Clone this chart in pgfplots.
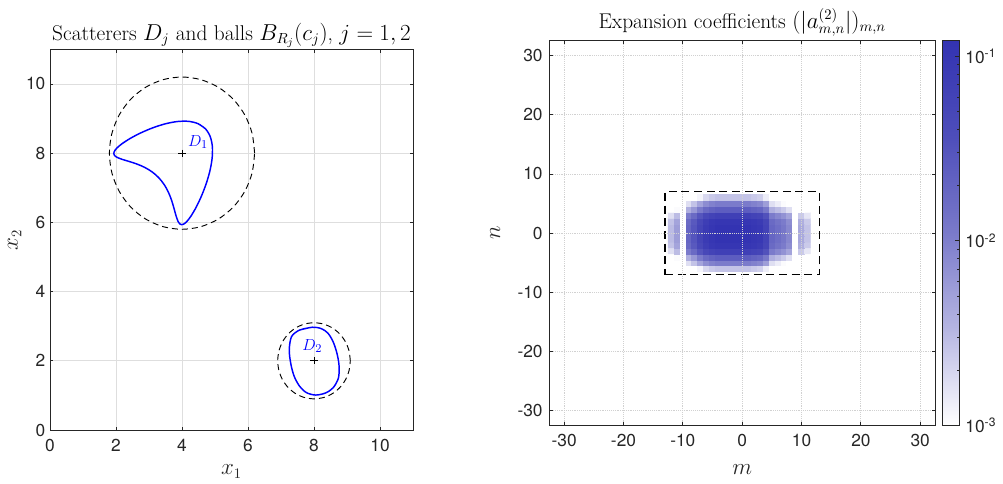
\documentclass[border=0pt]{standalone}
\usepackage{fontspec}
\usepackage{pgfplots}
\pgfplotsset{compat=1.18}
\newfontfamily\hv{TeX Gyre Heros}
\newcommand\tickfont{\hv\fontsize{13}{15}\selectfont}
\newcommand\labfont{\fontsize{16}{19}\selectfont}
\definecolor{axgray}{RGB}{38,38,38}

\pgfplotsset{
  every axis title shift=0pt,
  matlab/.style={
    scale only axis, anchor=south west,
    axis line style={color=axgray, line width=0.6pt},
    tick style={color=axgray, line width=0.6pt},
    major tick length=2.6pt, tick align=inside, tick pos=both,
    ticklabel style={font=\tickfont, color=axgray},
    /pgf/number format/assume math mode=true,
    title style={font=\labfont, anchor=base},
    label style={font=\labfont, color=axgray},
  }
}

\begin{document}
\begin{tikzpicture}
\path[use as bounding box] (0,0) rectangle (752.25pt,362.25pt);

% ---------------- left: scatterers ----------------
\begin{axis}[matlab,
  at={(37.5pt,39.75pt)}, width=272.25pt, height=285.5pt,
  xmin=0, xmax=11, ymin=0, ymax=11,
  xtick={0,2,...,10}, ytick={0,2,...,10},
  grid=major, grid style={color=black!13, line width=0.6pt},
  title={Scatterers $D_j$ and balls $B_{R_j}(c_j)$, $j=1,2$},
  title style={at={(axis description cs:0.5,1.0245)}},
  xlabel={$x_1$}, ylabel={$x_2$},
  xlabel style={at={(axis description cs:0.5,-0.1182)}, anchor=base},
  ylabel style={at={(axis description cs:-0.0882,0.5)}, anchor=base},
  xticklabel style={yshift=-3.5pt},
]
% ball around c_1
\addplot[black, line width=0.7pt, dash pattern=on 4.5pt off 3pt, smooth] coordinates {
(6.2,8) (6.125,8.569) (5.905,9.1) (5.556,9.556) (5.1,9.905) (4.569,10.125)
(4,10.2) (3.431,10.125) (2.9,9.905) (2.444,9.556) (2.095,9.1) (1.875,8.569)
(1.8,8) (1.875,7.431) (2.095,6.9) (2.444,6.444) (2.9,6.095) (3.431,5.875)
(4,5.8) (4.569,5.875) (5.1,6.095) (5.556,6.444) (5.905,6.9) (6.125,7.431) (6.2,8)};
% ball around c_2
\addplot[black, line width=0.7pt, dash pattern=on 4.5pt off 3pt, smooth] coordinates {
(9.1,2) (9.062,2.285) (8.953,2.55) (8.778,2.778) (8.55,2.953) (8.285,3.062)
(8,3.1) (7.715,3.062) (7.45,2.953) (7.222,2.778) (7.047,2.55) (6.938,2.285)
(6.9,2) (6.938,1.715) (7.047,1.45) (7.222,1.222) (7.45,1.047) (7.715,0.938)
(8,0.9) (8.285,0.938) (8.55,1.047) (8.778,1.222) (8.953,1.45) (9.062,1.715) (9.1,2)};
% D_1 (kite)
\addplot[blue, line width=1.1pt, smooth] coordinates {
(4.707,8.707) (4.484,8.853) (4.194,8.920) (3.852,8.913) (3.480,8.844) (3.103,8.728)
(2.746,8.583) (2.433,8.427) (2.187,8.276) (2.093,8.206) (2.020,8.141) (1.969,8.083)
(1.941,8.030) (1.935,7.984) (1.950,7.943) (1.985,7.907) (2.038,7.876) (2.194,7.818)
(2.397,7.760) (2.628,7.688) (2.865,7.591) (3.092,7.460) (3.293,7.293) (3.460,7.092)
(3.591,6.865) (3.688,6.628) (3.760,6.397) (3.818,6.194) (3.876,6.038) (3.907,5.985)
(3.943,5.950) (3.984,5.935) (4.030,5.941) (4.083,5.969) (4.141,6.020) (4.206,6.093)
(4.276,6.187) (4.427,6.433) (4.583,6.746) (4.728,7.103) (4.844,7.480) (4.913,7.852)
(4.920,8.194) (4.853,8.484) (4.707,8.707) (4.484,8.853)};
% D_2
\addplot[blue, line width=1.1pt, smooth] coordinates {
(7.95,2.97) (7.57,2.89) (7.32,2.70) (7.25,2.31) (7.30,1.90) (7.40,1.55)
(7.56,1.27) (7.77,1.08) (8.05,1.01) (8.35,1.07) (8.58,1.22) (8.74,1.50)
(8.76,1.85) (8.70,2.20) (8.58,2.55) (8.42,2.80) (8.22,2.93) (7.95,2.97) (7.57,2.89)};
% centres c_j
\addplot[black, only marks, mark=+, mark size=2.7pt, line width=0.6pt] coordinates {(4,8) (8,2)};
\node[blue, anchor=base west, inner sep=0pt, font=\fontsize{13}{15}\selectfont] at (axis cs:4.18,8.2) {$D_1$};
\node[blue, anchor=base west, inner sep=0pt, font=\fontsize{13}{15}\selectfont] at (axis cs:7.64,2.31) {$D_2$};
\end{axis}

% ---------------- right: coefficients ----------------
\begin{axis}[matlab,
  at={(412pt,43pt)}, width=289.3pt, height=288.75pt,
  xmin=-32.5, xmax=32.5, ymin=-32.5, ymax=32.5,
  xtick={-30,-20,...,30}, ytick={-30,-20,...,30},
  grid=major, grid style={densely dotted, color=black!18, line width=0.6pt},
  axis on top,
  title={Expansion coefficients $(|a^{(2)}_{m,n}|)_{m,n}$},
  title style={at={(axis description cs:0.5,1.0329)}},
  xlabel={$m$}, ylabel={$n$},
  xlabel style={at={(axis description cs:0.5,-0.1281)}, anchor=base},
  ylabel style={at={(axis description cs:-0.1279,0.5)}, anchor=base},
  xticklabel style={yshift=-3pt},
  yticklabel style={xshift=-1.5pt},
  colormap={wb}{rgb255(0cm)=(255,255,255); rgb255(1cm)=(182,182,226); rgb255(2cm)=(122,122,202); rgb255(3cm)=(78,78,186); rgb255(4cm)=(51,51,178)},
  point meta min=-3, point meta max=-0.917,
  colorbar,
  colorbar style={
    at={(parent axis.north east)}, anchor=north west, xshift=-2.74pt,
    width=12.45pt,
    axis line style={color=axgray, line width=0.6pt},
    ytick={-3,-2,-1},
    yticklabels={10\textsuperscript{-3},10\textsuperscript{-2},10\textsuperscript{-1}},
    minor ytick={-2.699,-2.523,-2.398,-2.301,-2.222,-2.155,-2.097,-2.046,
                 -1.699,-1.523,-1.398,-1.301,-1.222,-1.155,-1.097,-1.046},
    ytick pos=right, yticklabel pos=right,
    major tick length=3pt, minor tick length=1.8pt,
    tick style={color=axgray, line width=0.6pt},
    yticklabel style={font=\tickfont, color=axgray, anchor=west, xshift=1pt},
  },
]
% log10 |a_{m,n}|, read off the colour scale
\addplot[matrix plot*, mesh/cols=24, point meta=explicit] table[x=m, y=n, meta=lg, row sep=\\] {
m n lg\\
-12 -6 -4.17\\ -11 -6 -3.92\\ -10 -6 -5.07\\ -9 -6 -3.37\\ -8 -6 -3.17\\ -7 -6 -2.92\\ -6 -6 -2.72\\ -5 -6 -2.62\\ -4 -6 -2.57\\ -3 -6 -2.57\\ -2 -6 -2.57\\ -1 -6 -2.57\\ 0 -6 -2.57\\ 1 -6 -2.57\\ 2 -6 -2.62\\ 3 -6 -2.67\\ 4 -6 -2.87\\ 5 -6 -3.37\\ 6 -6 -3.47\\ 7 -6 -3.57\\ 8 -6 -3.72\\ 9 -6 -5.07\\ 10 -6 -4.02\\ 11 -6 -4.22\\
-12 -5 -3.57\\ -11 -5 -3.32\\ -10 -5 -4.47\\ -9 -5 -2.77\\ -8 -5 -2.57\\ -7 -5 -2.32\\ -6 -5 -2.12\\ -5 -5 -2.02\\ -4 -5 -1.97\\ -3 -5 -1.97\\ -2 -5 -1.97\\ -1 -5 -1.97\\ 0 -5 -1.97\\ 1 -5 -1.97\\ 2 -5 -2.02\\ 3 -5 -2.07\\ 4 -5 -2.27\\ 5 -5 -2.77\\ 6 -5 -2.87\\ 7 -5 -2.97\\ 8 -5 -3.12\\ 9 -5 -4.47\\ 10 -5 -3.42\\ 11 -5 -3.62\\
-12 -4 -3.22\\ -11 -4 -2.97\\ -10 -4 -4.12\\ -9 -4 -2.42\\ -8 -4 -2.22\\ -7 -4 -1.97\\ -6 -4 -1.77\\ -5 -4 -1.67\\ -4 -4 -1.62\\ -3 -4 -1.62\\ -2 -4 -1.62\\ -1 -4 -1.62\\ 0 -4 -1.62\\ 1 -4 -1.62\\ 2 -4 -1.67\\ 3 -4 -1.72\\ 4 -4 -1.92\\ 5 -4 -2.42\\ 6 -4 -2.52\\ 7 -4 -2.62\\ 8 -4 -2.77\\ 9 -4 -4.12\\ 10 -4 -3.07\\ 11 -4 -3.27\\
-12 -3 -2.77\\ -11 -3 -2.52\\ -10 -3 -3.67\\ -9 -3 -1.97\\ -8 -3 -1.77\\ -7 -3 -1.52\\ -6 -3 -1.32\\ -5 -3 -1.22\\ -4 -3 -1.17\\ -3 -3 -1.17\\ -2 -3 -1.17\\ -1 -3 -1.17\\ 0 -3 -1.17\\ 1 -3 -1.17\\ 2 -3 -1.22\\ 3 -3 -1.27\\ 4 -3 -1.47\\ 5 -3 -1.97\\ 6 -3 -2.07\\ 7 -3 -2.17\\ 8 -3 -2.32\\ 9 -3 -3.67\\ 10 -3 -2.62\\ 11 -3 -2.82\\
-12 -2 -2.57\\ -11 -2 -2.32\\ -10 -2 -3.47\\ -9 -2 -1.77\\ -8 -2 -1.57\\ -7 -2 -1.32\\ -6 -2 -1.12\\ -5 -2 -1.02\\ -4 -2 -0.97\\ -3 -2 -0.97\\ -2 -2 -0.97\\ -1 -2 -0.97\\ 0 -2 -0.97\\ 1 -2 -0.97\\ 2 -2 -1.02\\ 3 -2 -1.07\\ 4 -2 -1.27\\ 5 -2 -1.77\\ 6 -2 -1.87\\ 7 -2 -1.97\\ 8 -2 -2.12\\ 9 -2 -3.47\\ 10 -2 -2.42\\ 11 -2 -2.62\\
-12 -1 -2.52\\ -11 -1 -2.27\\ -10 -1 -3.42\\ -9 -1 -1.72\\ -8 -1 -1.52\\ -7 -1 -1.27\\ -6 -1 -1.07\\ -5 -1 -0.97\\ -4 -1 -0.92\\ -3 -1 -0.92\\ -2 -1 -0.92\\ -1 -1 -0.92\\ 0 -1 -0.92\\ 1 -1 -0.92\\ 2 -1 -0.97\\ 3 -1 -1.02\\ 4 -1 -1.22\\ 5 -1 -1.72\\ 6 -1 -1.82\\ 7 -1 -1.92\\ 8 -1 -2.07\\ 9 -1 -3.42\\ 10 -1 -2.37\\ 11 -1 -2.57\\
-12 0 -2.52\\ -11 0 -2.27\\ -10 0 -3.42\\ -9 0 -1.72\\ -8 0 -1.52\\ -7 0 -1.27\\ -6 0 -1.07\\ -5 0 -0.97\\ -4 0 -0.92\\ -3 0 -0.92\\ -2 0 -0.92\\ -1 0 -0.92\\ 0 0 -0.92\\ 1 0 -0.92\\ 2 0 -0.97\\ 3 0 -1.02\\ 4 0 -1.22\\ 5 0 -1.72\\ 6 0 -1.82\\ 7 0 -1.92\\ 8 0 -2.07\\ 9 0 -3.42\\ 10 0 -2.37\\ 11 0 -2.57\\
-12 1 -2.52\\ -11 1 -2.27\\ -10 1 -3.42\\ -9 1 -1.72\\ -8 1 -1.52\\ -7 1 -1.27\\ -6 1 -1.07\\ -5 1 -0.97\\ -4 1 -0.92\\ -3 1 -0.92\\ -2 1 -0.92\\ -1 1 -0.92\\ 0 1 -0.92\\ 1 1 -0.92\\ 2 1 -0.97\\ 3 1 -1.02\\ 4 1 -1.22\\ 5 1 -1.72\\ 6 1 -1.82\\ 7 1 -1.92\\ 8 1 -2.07\\ 9 1 -3.42\\ 10 1 -2.37\\ 11 1 -2.57\\
-12 2 -2.57\\ -11 2 -2.32\\ -10 2 -3.47\\ -9 2 -1.77\\ -8 2 -1.57\\ -7 2 -1.32\\ -6 2 -1.12\\ -5 2 -1.02\\ -4 2 -0.97\\ -3 2 -0.97\\ -2 2 -0.97\\ -1 2 -0.97\\ 0 2 -0.97\\ 1 2 -0.97\\ 2 2 -1.02\\ 3 2 -1.07\\ 4 2 -1.27\\ 5 2 -1.77\\ 6 2 -1.87\\ 7 2 -1.97\\ 8 2 -2.12\\ 9 2 -3.47\\ 10 2 -2.42\\ 11 2 -2.62\\
-12 3 -2.77\\ -11 3 -2.52\\ -10 3 -3.67\\ -9 3 -1.97\\ -8 3 -1.77\\ -7 3 -1.52\\ -6 3 -1.32\\ -5 3 -1.22\\ -4 3 -1.17\\ -3 3 -1.17\\ -2 3 -1.17\\ -1 3 -1.17\\ 0 3 -1.17\\ 1 3 -1.17\\ 2 3 -1.22\\ 3 3 -1.27\\ 4 3 -1.47\\ 5 3 -1.97\\ 6 3 -2.07\\ 7 3 -2.17\\ 8 3 -2.32\\ 9 3 -3.67\\ 10 3 -2.62\\ 11 3 -2.82\\
-12 4 -3.22\\ -11 4 -2.97\\ -10 4 -4.12\\ -9 4 -2.42\\ -8 4 -2.22\\ -7 4 -1.97\\ -6 4 -1.77\\ -5 4 -1.67\\ -4 4 -1.62\\ -3 4 -1.62\\ -2 4 -1.62\\ -1 4 -1.62\\ 0 4 -1.62\\ 1 4 -1.62\\ 2 4 -1.67\\ 3 4 -1.72\\ 4 4 -1.92\\ 5 4 -2.42\\ 6 4 -2.52\\ 7 4 -2.62\\ 8 4 -2.77\\ 9 4 -4.12\\ 10 4 -3.07\\ 11 4 -3.27\\
-12 5 -3.57\\ -11 5 -3.32\\ -10 5 -4.47\\ -9 5 -2.77\\ -8 5 -2.57\\ -7 5 -2.32\\ -6 5 -2.12\\ -5 5 -2.02\\ -4 5 -1.97\\ -3 5 -1.97\\ -2 5 -1.97\\ -1 5 -1.97\\ 0 5 -1.97\\ 1 5 -1.97\\ 2 5 -2.02\\ 3 5 -2.07\\ 4 5 -2.27\\ 5 5 -2.77\\ 6 5 -2.87\\ 7 5 -2.97\\ 8 5 -3.12\\ 9 5 -4.47\\ 10 5 -3.42\\ 11 5 -3.62\\
-12 6 -4.17\\ -11 6 -3.92\\ -10 6 -5.07\\ -9 6 -3.37\\ -8 6 -3.17\\ -7 6 -2.92\\ -6 6 -2.72\\ -5 6 -2.62\\ -4 6 -2.57\\ -3 6 -2.57\\ -2 6 -2.57\\ -1 6 -2.57\\ 0 6 -2.57\\ 1 6 -2.57\\ 2 6 -2.62\\ 3 6 -2.67\\ 4 6 -2.87\\ 5 6 -3.37\\ 6 6 -3.47\\ 7 6 -3.57\\ 8 6 -3.72\\ 9 6 -5.07\\ 10 6 -4.02\\ 11 6 -4.22\\
};
% truncation box
\addplot[black, line width=1.1pt, dash pattern=on 6pt off 3.5pt] coordinates {
(-13,-7) (13,-7) (13,7) (-13,7) (-13,-7)};
\end{axis}
\end{tikzpicture}
\end{document}
